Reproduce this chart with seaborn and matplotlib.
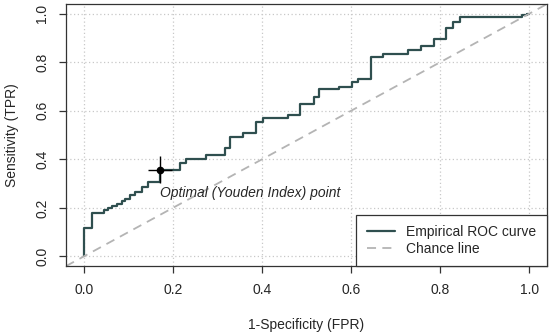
import numpy as np
import pandas as pd
import seaborn as sns
import matplotlib.pyplot as plt

# ROC steps: FPR where TPR jumps, TPR after the jump
fpr = [0.0, 0.0, 0.019, 0.046, 0.055, 0.064, 0.074, 0.085, 0.093, 0.104, 0.115,
       0.130, 0.145, 0.172, 0.215, 0.230, 0.274, 0.316, 0.329, 0.357, 0.387,
       0.402, 0.458, 0.486, 0.516, 0.529, 0.572, 0.602, 0.615, 0.645, 0.672,
       0.729, 0.758, 0.786, 0.814, 0.828, 0.844, 0.983, 0.996, 1.0]
tpr = [0.0, 0.117, 0.179, 0.190, 0.200, 0.208, 0.218, 0.227, 0.236, 0.252, 0.266,
       0.286, 0.307, 0.358, 0.386, 0.400, 0.416, 0.448, 0.493, 0.510, 0.552,
       0.569, 0.583, 0.627, 0.658, 0.689, 0.700, 0.720, 0.733, 0.822, 0.835,
       0.849, 0.865, 0.897, 0.941, 0.967, 0.986, 0.996, 1.0, 1.0]

# Youden optimal point and its crosshair half-widths
opt_fpr = [0.172]
opt_tpr = [0.358]
opt_xerr = [0.027]
opt_yerr = [0.055]

ticks = [0.0, 0.2, 0.4, 0.6, 0.8, 1.0]

sns.set_style("white")
plt.rcParams['font.family'] = ['Liberation Sans', 'DejaVu Sans']

roc_df = pd.DataFrame({'FPR': fpr, 'TPR': tpr})

fig = plt.figure(figsize=(5.5, 3.36), dpi=100)
ax = fig.add_axes([0.12, 0.208, 0.8745, 0.78])

ax.grid(True, color='#c8c8c8', linestyle=(0, (1, 2)), linewidth=0.9)
ax.set_axisbelow(True)

sns.lineplot(data=roc_df, x='FPR', y='TPR', sort=False, estimator=None,
             drawstyle='steps-post', color='#2f4f4f', linewidth=1.6,
             label='Empirical ROC curve', ax=ax)
ax.axline((0, 0), slope=1, color='#b4b4b4', linestyle=(0, (5, 3.5)),
          linewidth=1.3, label='Chance line')

ax.errorbar(opt_fpr, opt_tpr, xerr=opt_xerr, yerr=opt_yerr, fmt='o',
            color='black', markersize=4.5, elinewidth=1, capsize=0)
ax.text(opt_fpr[0] - 0.002, 0.262, 'Optimal (Youden Index) point',
        style='italic', fontsize=10, ha='left', va='center')

ax.set_xlim(-0.04, 1.04)
ax.set_ylim(-0.04, 1.04)
ax.set_xticks(ticks)
ax.set_yticks(ticks)
ax.set_xticklabels([f'{t:.1f}' for t in ticks], fontsize=10)
ax.set_yticklabels([f'{t:.1f}' for t in ticks], fontsize=10, rotation=90,
                   va='center')
ax.tick_params(axis='both', direction='out', length=5, width=0.9,
               color='#333333', pad=7, bottom=True, left=True)
for s in ax.spines.values():
    s.set_color('#333333')
    s.set_linewidth(0.9)

ax.set_xlabel('1-Specificity (FPR)', fontsize=10, labelpad=15)
ax.set_ylabel('Sensitivity (TPR)', fontsize=10, labelpad=12)

leg = ax.legend(loc='lower right', fontsize=10, frameon=True, fancybox=False,
                edgecolor='#333333', framealpha=1, borderaxespad=0,
                handlelength=2.0, borderpad=0.75, labelspacing=0.2,
                handletextpad=0.85)
leg.get_frame().set_linewidth(0.9)

fig.savefig('out.png', dpi=100)
